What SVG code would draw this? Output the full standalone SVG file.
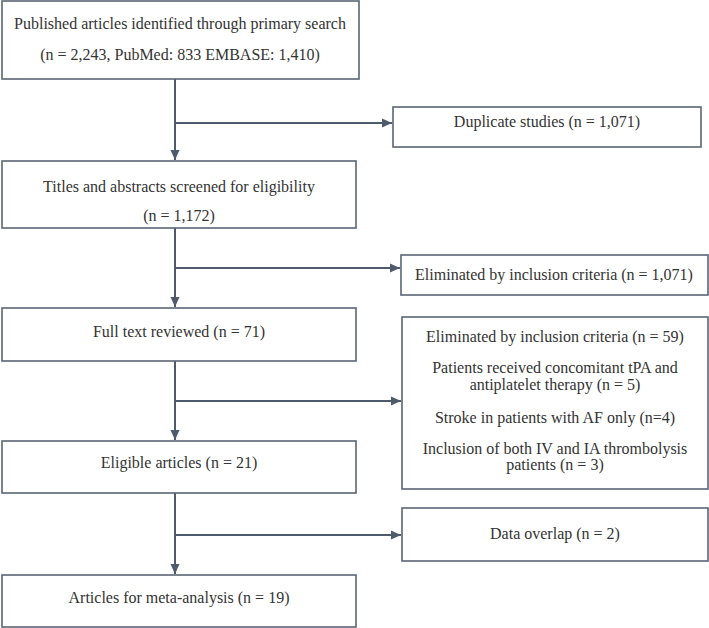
<svg xmlns="http://www.w3.org/2000/svg" width="709" height="628" viewBox="0 0 709 628">
<style>
.box{fill:#ffffff;stroke:#5a6576;stroke-width:1.6}
.ln{fill:none;stroke:#4f5b6c;stroke-width:2}
.t{font-family:'Liberation Serif','DejaVu Serif',serif;font-size:16px;fill:#333333;text-anchor:middle}
</style>
<defs>
<marker id="ah" markerUnits="userSpaceOnUse" markerWidth="10" markerHeight="10" viewBox="0 0 10 10" refX="10" refY="5" orient="auto">
<path d="M0,0.5 L10,5 L0,9.5 Z" fill="#4f5b6c"/>
</marker>
</defs>
<rect width="709" height="628" fill="#ffffff"/>
<g id="connectors">
<line class="ln" x1="175" y1="79" x2="175" y2="160" marker-end="url(#ah)"/>
<line class="ln" x1="175" y1="123" x2="392" y2="123" marker-end="url(#ah)"/>
<line class="ln" x1="175" y1="228" x2="175" y2="307" marker-end="url(#ah)"/>
<line class="ln" x1="175" y1="268" x2="400" y2="268" marker-end="url(#ah)"/>
<line class="ln" x1="175" y1="361" x2="175" y2="440" marker-end="url(#ah)"/>
<line class="ln" x1="175" y1="401" x2="401" y2="401" marker-end="url(#ah)"/>
<line class="ln" x1="175" y1="493" x2="175" y2="574" marker-end="url(#ah)"/>
<line class="ln" x1="175" y1="535" x2="401" y2="535" marker-end="url(#ah)"/>
</g>
<g id="n1">
<rect class="box" x="2" y="1" width="357" height="78"/>
<text class="t" x="180" y="29" font-family="Liberation Serif, serif">Published articles identified through primary search</text>
<text class="t" x="180" y="60" font-family="Liberation Serif, serif">(n = 2,243, PubMed: 833 EMBASE: 1,410)</text>
</g>
<g id="n2">
<rect class="box" x="393" y="107" width="308" height="40"/>
<text class="t" x="547" y="127">Duplicate studies (n = 1,071)</text>
</g>
<g id="n3">
<rect class="box" x="2" y="161" width="354" height="67"/>
<text class="t" x="179" y="192">Titles and abstracts screened for eligibility</text>
<text class="t" x="179" y="221">(n = 1,172)</text>
</g>
<g id="n4">
<rect class="box" x="401" y="255" width="307" height="40"/>
<text class="t" x="554" y="280">Eliminated by inclusion criteria (n = 1,071)</text>
</g>
<g id="n5">
<rect class="box" x="2" y="308" width="354" height="53"/>
<text class="t" x="179" y="337">Full text reviewed (n = 71)</text>
</g>
<g id="n6">
<rect class="box" x="402" y="317" width="306" height="172"/>
<text class="t" x="555" y="342">Eliminated by inclusion criteria (n = 59)</text>
<text class="t" x="555" y="373">Patients received concomitant tPA and</text>
<text class="t" x="555" y="390">antiplatelet therapy (n = 5)</text>
<text class="t" x="555" y="423">Stroke in patients with AF only (n=4)</text>
<text class="t" x="555" y="454">Inclusion of both IV and IA thrombolysis</text>
<text class="t" x="555" y="470">patients (n = 3)</text>
</g>
<g id="n7">
<rect class="box" x="2" y="441" width="354" height="52"/>
<text class="t" x="179" y="468">Eligible articles (n = 21)</text>
</g>
<g id="n8">
<rect class="box" x="402" y="508" width="306" height="53"/>
<text class="t" x="555" y="539">Data overlap (n = 2)</text>
</g>
<g id="n9">
<rect class="box" x="2" y="575" width="354" height="52"/>
<text class="t" x="179" y="603">Articles for meta-analysis (n = 19)</text>
</g>
</svg>
